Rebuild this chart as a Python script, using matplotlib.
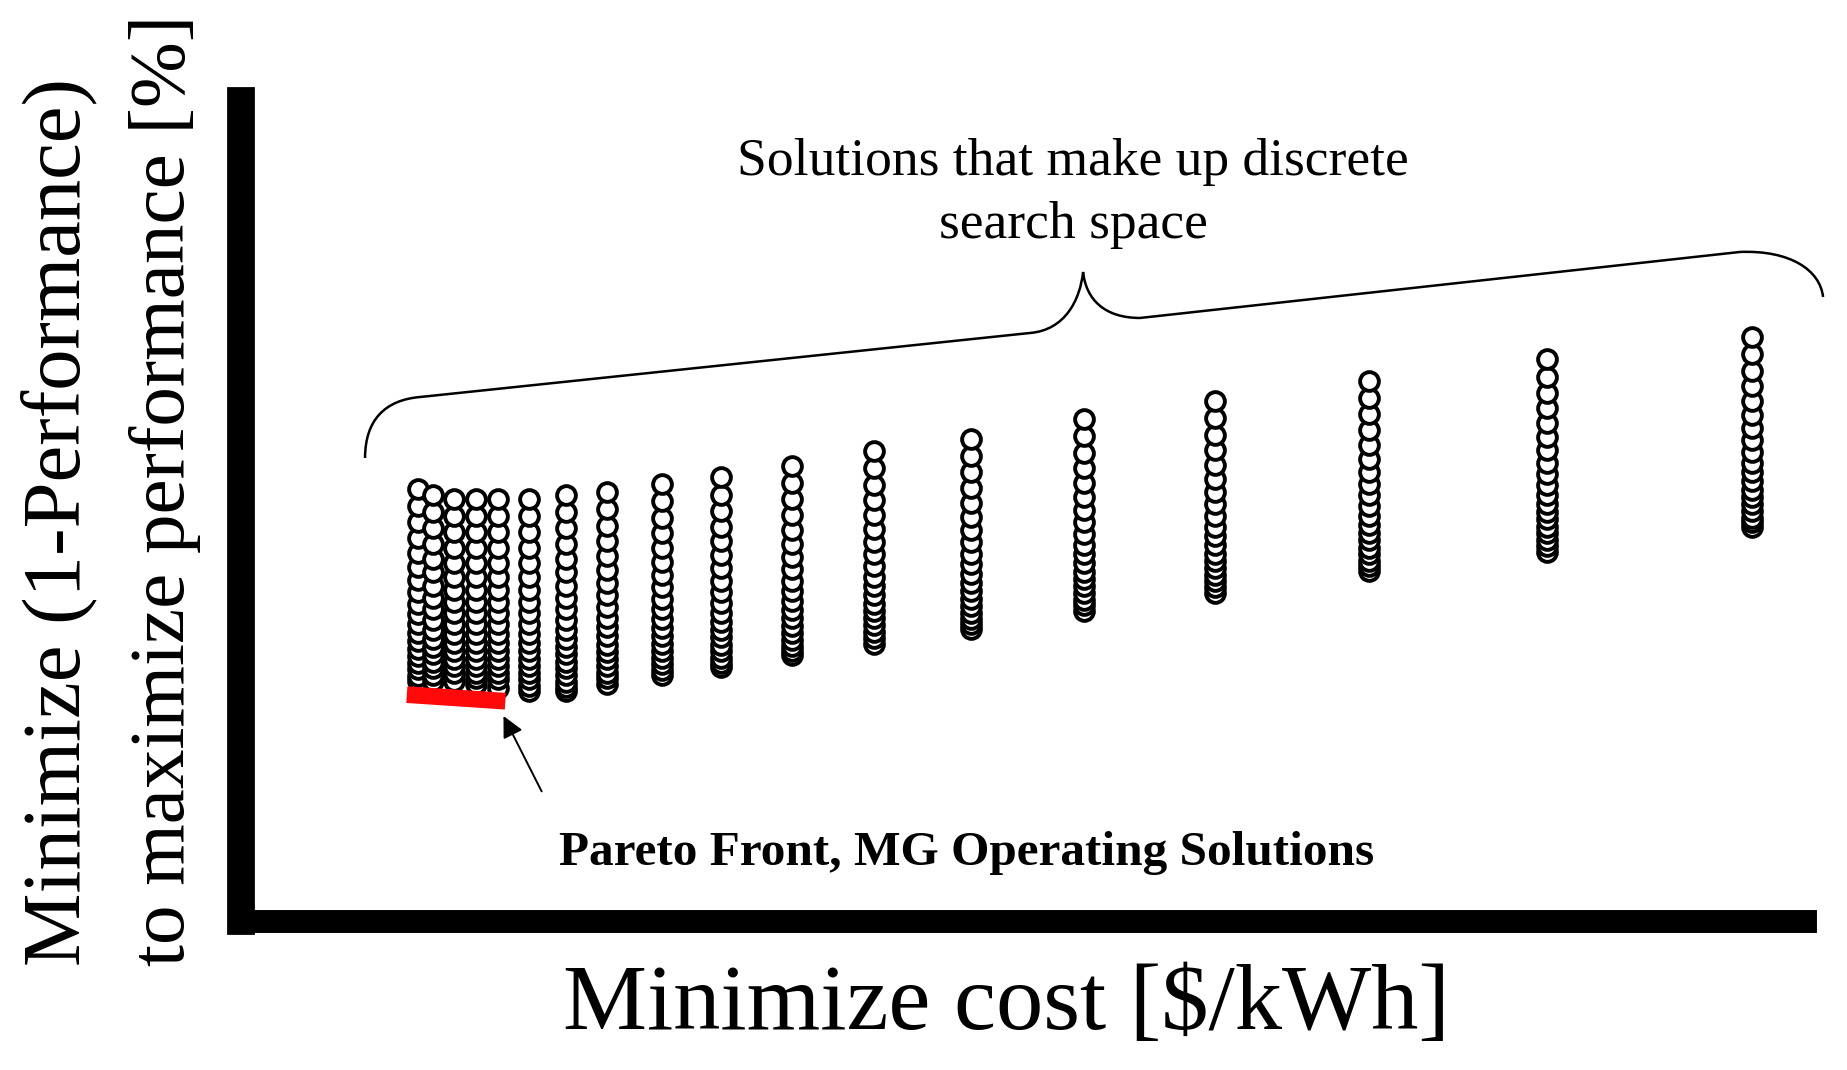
import numpy as np
import matplotlib
matplotlib.use("Agg")
import matplotlib.pyplot as plt
from matplotlib.path import Path
from matplotlib.patches import PathPatch

# column positions (cost, arbitrary units) and the solutions stacked in each column
cost_cols = [11.3, 12.3, 13.6, 15.0, 16.4, 18.4, 20.8, 23.4, 26.9, 30.7,
             35.2, 40.5, 46.7, 53.9, 62.3, 72.1, 83.5, 96.6]
perf_cols = [
    [52.7, 50.6, 48.6, 46.7, 44.9, 43.2, 41.6, 40.1, 38.7, 37.4, 36.2, 35.1, 34.1, 33.2, 32.3, 31.5, 30.7, 29.9, 29.3],
    [52.0, 49.9, 47.9, 46.0, 44.2, 42.5, 40.9, 39.4, 38.0, 36.7, 35.5, 34.4, 33.4, 32.5, 31.6, 30.8, 30.0, 29.3],
    [51.5, 49.4, 47.4, 45.5, 43.7, 42.0, 40.4, 38.9, 37.5, 36.2, 35.0, 33.9, 32.9, 32.0, 31.1, 30.3, 29.3],
    [51.5, 49.4, 47.4, 45.5, 43.7, 42.0, 40.4, 38.9, 37.5, 36.2, 35.0, 33.9, 32.9, 32.0, 31.1, 30.3, 29.6, 28.9],
    [51.5, 49.4, 47.4, 45.5, 43.7, 42.0, 40.4, 38.9, 37.5, 36.2, 35.0, 33.9, 32.9, 32.0, 31.1, 30.3, 29.5, 28.4],
    [51.5, 49.4, 47.4, 45.5, 43.7, 42.0, 40.4, 38.9, 37.5, 36.2, 35.0, 33.9, 32.9, 32.0, 31.1, 30.3, 29.5, 28.7, 28.0],
    [52.0, 49.9, 47.9, 46.0, 44.2, 42.5, 40.9, 39.4, 38.0, 36.7, 35.5, 34.4, 33.4, 32.5, 31.6, 30.8, 30.0, 29.2, 28.5, 28.0],
    [52.3, 50.2, 48.2, 46.3, 44.5, 42.8, 41.2, 39.7, 38.3, 37.0, 35.8, 34.7, 33.7, 32.8, 31.9, 31.1, 30.3, 29.6, 28.9],
    [53.3, 51.2, 49.2, 47.3, 45.5, 43.8, 42.2, 40.7, 39.3, 38.0, 36.8, 35.7, 34.7, 33.8, 32.9, 32.1, 31.3, 30.6, 30.0],
    [54.1, 52.0, 50.0, 48.1, 46.3, 44.6, 43.0, 41.5, 40.1, 38.8, 37.6, 36.5, 35.5, 34.6, 33.7, 32.9, 32.1, 31.5, 31.0],
    [55.5, 53.4, 51.4, 49.5, 47.7, 46.0, 44.4, 42.9, 41.5, 40.2, 39.0, 37.9, 36.9, 36.0, 35.1, 34.3, 33.5, 32.9, 32.4],
    [57.3, 55.2, 53.2, 51.3, 49.5, 47.8, 46.2, 44.7, 43.3, 42.0, 40.8, 39.7, 38.7, 37.8, 36.9, 36.1, 35.3, 34.5, 33.8],
    [58.8, 56.7, 54.7, 52.8, 51.0, 49.3, 47.7, 46.2, 44.8, 43.5, 42.3, 41.2, 40.2, 39.3, 38.4, 37.6, 36.8, 36.2, 35.6],
    [61.2, 59.1, 57.1, 55.2, 53.4, 51.7, 50.1, 48.6, 47.2, 45.9, 44.7, 43.6, 42.6, 41.7, 40.8, 40.0, 39.2, 38.5, 37.8],
    [63.4, 61.3, 59.3, 57.4, 55.6, 53.9, 52.3, 50.8, 49.4, 48.1, 46.9, 45.8, 44.8, 43.9, 43.0, 42.2, 41.4, 40.7, 40.0],
    [65.9, 63.8, 61.8, 59.9, 58.1, 56.4, 54.8, 53.3, 51.9, 50.6, 49.4, 48.3, 47.3, 46.4, 45.5, 44.7, 43.9, 43.3, 42.7],
    [68.5, 66.4, 64.4, 62.5, 60.7, 59.0, 57.4, 55.9, 54.5, 53.2, 52.0, 50.9, 49.9, 49.0, 48.1, 47.3, 46.5, 45.7, 45.0],
    [71.2, 69.1, 67.1, 65.2, 63.4, 61.7, 60.1, 58.6, 57.2, 55.9, 54.7, 53.6, 52.6, 51.7, 50.8, 50.0, 49.2, 48.6, 48.0],
]

# pareto front (red stroke under the first columns)
pareto_x = [10.6, 16.9]
pareto_y = [27.6, 26.8]

# curly brace over the search space
brace_pts = [(7.93, 56.46), (7.93, 61.10), (9.21, 63.54), (11.45, 63.90),
             (50.45, 71.71),
             (52.69, 72.07), (53.64, 75.73), (53.84, 79.15),
             (54.03, 75.73), (55.24, 73.54), (57.48, 73.54),
             (95.84, 81.59),
             (99.04, 81.83), (100.96, 79.39), (101.15, 76.10)]
brace_codes = [Path.MOVETO, Path.CURVE4, Path.CURVE4, Path.CURVE4,
               Path.LINETO,
               Path.CURVE4, Path.CURVE4, Path.CURVE4,
               Path.CURVE4, Path.CURVE4, Path.CURVE4,
               Path.LINETO,
               Path.CURVE4, Path.CURVE4, Path.CURVE4]

plt.rcParams['font.family'] = ['Liberation Serif', 'DejaVu Serif']

fig = plt.figure(figsize=(18.47, 10.70), dpi=100)
ax = fig.add_axes([0.1305, 0.1393, 0.8468, 0.7663])
ax.set_xlim(0, 100)
ax.set_ylim(0, 100)
ax.set_xticks([])
ax.set_yticks([])
for s in ['top', 'right']:
    ax.spines[s].set_visible(False)
ax.spines['left'].set_linewidth(20)
ax.spines['bottom'].set_linewidth(16.5)
for s in ['left', 'bottom']:
    ax.spines[s].set_capstyle('projecting')
    ax.spines[s].set_color('black')

for xc, ys in zip(cost_cols, perf_cols):
    ys = np.array(ys)[::-1]
    ax.plot(np.full(len(ys), xc), ys, 'o', ms=13.5, mfc='white', mec='black', mew=2.8, zorder=3)

ax.plot(pareto_x, pareto_y, color='#ff0a0a', lw=12, solid_capstyle='butt', zorder=4)

brace = PathPatch(Path(brace_pts, brace_codes), fc='none', ec='black', lw=1.8, clip_on=False)
ax.add_patch(brace)

ax.annotate('', xy=(16.7, 25.3), xytext=(19.3, 15.5),
            arrowprops=dict(arrowstyle='-|>', color='black', lw=1.4, mutation_scale=32))

ax.text(53.2, 88.7, 'Solutions that make up discrete\nsearch space', ha='center', va='center',
        fontsize=38.5, linespacing=1.4)
ax.text(46.4, 8.3, 'Pareto Front, MG Operating Solutions', ha='center', va='center',
        fontsize=35.5, fontweight='bold')

fig.text(0.5447, 0.0589, 'Minimize cost [$/kWh]', ha='center', va='center', fontsize=68)
fig.text(0.0319, 0.0972, 'Minimize (1-Performance)', rotation=90, rotation_mode='anchor',
         ha='left', va='center', fontsize=59.5)
fig.text(0.0893, 0.0972, 'to maximize performance [%]', rotation=90, rotation_mode='anchor',
         ha='left', va='center', fontsize=57)

fig.savefig('out.png', dpi=100)
